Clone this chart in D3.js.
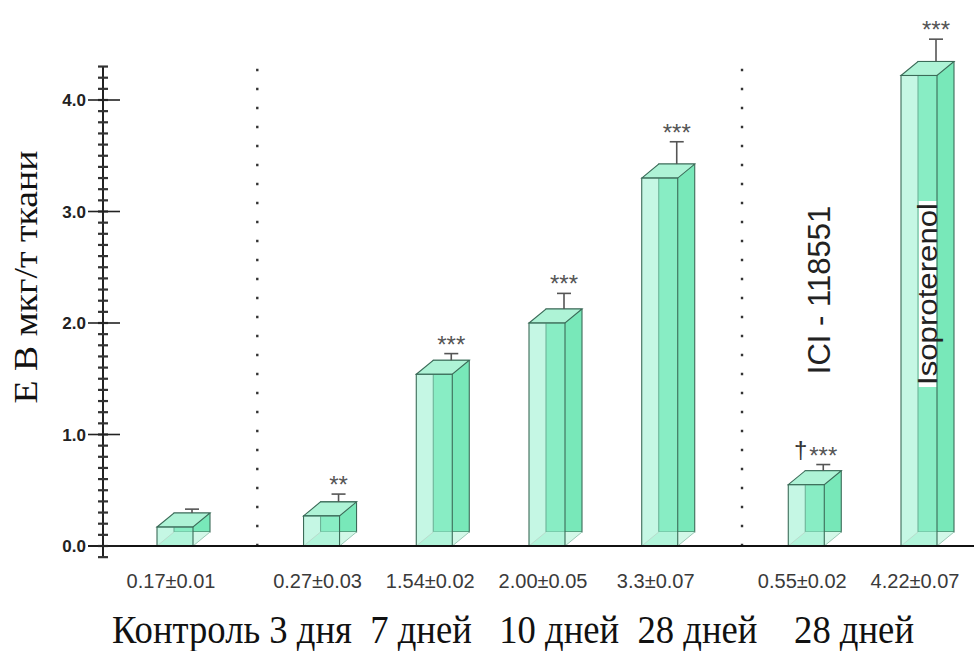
<!DOCTYPE html>
<html lang="ru">
<head>
  <meta charset="UTF-8">
  <title>E B</title>
  <style>
    body { margin: 0; background: #fff; }
    svg { display: block; }
  </style>
</head>
<body>
  <svg width="974" height="651"></svg>
  <script src="https://d3js.org/d3.v7.min.js"></script>
  <script>
    // data
    const groups = [0, 1, 1, 1, 1, 2, 2];
    const means = [0.17, 0.27, 1.54, 2.00, 3.3, 0.55, 4.22];
    const errDrawn = [0.035, 0.07, 0.06, 0.14, 0.2, 0.055, 0.2];
    const valueLabels = ["0.17±0.01", "0.27±0.03", "1.54±0.02", "2.00±0.05", "3.3±0.07", "0.55±0.02", "4.22±0.07"];
    const marks = ["", "**", "***", "***", "***", "†***", "***"];
    const yTicks = [0, 1, 2, 3, 4];
    const caption = "Контроль 3 дня  7 дней   10 дней  28 дней    28 дней";
    const yTitle = "Е В мкг/т ткани";
    const groupNotes = ["ICI - 118551", "Isoproterenol"];

    const SANS = "'Liberation Sans', Arial, sans-serif";
    const SERIF = "'Liberation Serif', 'Times New Roman', serif";

    const svg = d3.select("svg");
    const groupGap = 0.3;
    const slot = (i) => i + groups[i] * groupGap;
    const lastSlot = slot(means.length - 1);

    const x = d3.scaleLinear().domain([0, lastSlot]).range([175, 919]);
    const y = d3.scaleLinear().domain([0, 4]).range([546, 100]);

    const barW = 36, dx = 17, dy = 14;
    const axisX = 103;
    const edge = "#3b6b58";

    // dotted group separators
    const seps = [];
    for (let i = 1; i < means.length; i++) {
      if (groups[i] !== groups[i - 1]) seps.push((slot(i) + slot(i - 1)) / 2 + 0.08);
    }
    svg.selectAll("line.sep").data(seps).enter().append("line")
      .attr("class", "sep")
      .attr("x1", d => x(d)).attr("x2", d => x(d))
      .attr("y1", y(4.28)).attr("y2", y(0))
      .attr("stroke", "#333").attr("stroke-width", 2.4)
      .attr("stroke-dasharray", "2.4,16.6");

    // bars as 3D boxes
    const bars = svg.selectAll("g.bar").data(means).enter().append("g").attr("class", "bar");
    bars.each(function (v, i) {
      const g = d3.select(this);
      const xl = x(slot(i)) - barW / 2, xr = xl + barW;
      const yt = y(v), yb = y(0);
      // back face
      g.append("rect").attr("x", xl + dx).attr("y", yt - dy).attr("width", barW).attr("height", yb - yt)
        .attr("fill", "#78e8b9").attr("stroke", edge).attr("stroke-width", 1.1);
      // bottom face
      g.append("polygon")
        .attr("points", [[xl, yb], [xl + dx, yb - dy], [xr + dx, yb - dy], [xr, yb]].join(" "))
        .attr("fill", "#d2f8e8").attr("stroke", "none");
      // top face
      g.append("polygon")
        .attr("points", [[xl, yt], [xl + dx, yt - dy], [xr + dx, yt - dy], [xr, yt]].join(" "))
        .attr("fill", "#aef3d6").attr("stroke", edge).attr("stroke-width", 1.1);
      // front face, translucent
      g.append("rect").attr("x", xl).attr("y", yt).attr("width", barW).attr("height", yb - yt)
        .attr("fill", "rgba(150,240,205,0.55)").attr("stroke", edge).attr("stroke-width", 1.1);
      // bottom connectors
      g.append("line").attr("x1", xr).attr("y1", yb).attr("x2", xr + dx).attr("y2", yb - dy)
        .attr("stroke", "#9cc9b6").attr("stroke-width", 1);
      g.append("line").attr("x1", xl).attr("y1", yb).attr("x2", xl + dx).attr("y2", yb - dy)
        .attr("stroke", "#b9dccd").attr("stroke-width", 1);

      // error bar on back face
      const ex = xl + dx + barW / 2;
      const y0 = yt - dy, y1 = y(v + errDrawn[i]) - dy;
      g.append("line").attr("x1", ex).attr("x2", ex).attr("y1", y0).attr("y2", y1)
        .attr("stroke", "#555").attr("stroke-width", 1.6);
      g.append("line").attr("x1", ex - 7).attr("x2", ex + 7).attr("y1", y1).attr("y2", y1)
        .attr("stroke", "#555").attr("stroke-width", 1.6);

      // significance marks
      const m = marks[i];
      if (m) {
        const stars = m.replace("†", "");
        g.append("text")
          .attr("font-family", SANS)
          .attr("x", ex).attr("y", y1 - 1)
          .attr("text-anchor", "middle").attr("font-size", 24).attr("fill", "#555")
          .text(stars);
        if (m.includes("†")) {
          g.append("text")
            .attr("font-family", SANS)
            .attr("x", ex - 16).attr("y", y1 - 7)
            .attr("text-anchor", "end").attr("font-size", 24).attr("fill", "#333")
            .text("†");
        }
      }
    });

    // value labels under the bars
    svg.selectAll("text.val").data(valueLabels).enter().append("text")
      .attr("class", "val")
      .attr("font-family", SANS)
      .attr("x", (d, i) => x(slot(i)) - 4)
      .attr("y", 588)
      .attr("text-anchor", "middle")
      .attr("font-size", 20)
      .attr("fill", "#3a3a3a")
      .text(d => d);

    // group notes (rotated)
    svg.append("text")
      .attr("font-family", SANS)
      .attr("transform", `translate(${x(slot(5)) + 24},290) rotate(-90)`)
      .attr("text-anchor", "middle").attr("font-size", 31).attr("fill", "#222")
      .text(groupNotes[0]);

    const isoX = x(slot(6));
    const isoBoxL = isoX - barW / 2 + dx, isoBoxR = isoX + barW / 2;
    svg.append("rect")
      .attr("x", isoBoxL + 0.8).attr("y", 201)
      .attr("width", isoBoxR - isoBoxL - 1.6).attr("height", 186)
      .attr("fill", "#fff");
    svg.append("text")
      .attr("font-family", SANS)
      .attr("transform", `translate(${isoBoxR - 0.5},294) rotate(-90)`)
      .attr("text-anchor", "middle").attr("font-size", 27).attr("fill", "#222")
      .attr("textLength", 182).attr("lengthAdjust", "spacingAndGlyphs")
      .text(groupNotes[1]);

    // x axis baseline
    svg.append("line").attr("x1", 88).attr("x2", 974).attr("y1", y(0)).attr("y2", y(0))
      .attr("stroke", "#111").attr("stroke-width", 2);

    // y axis with minor ticks
    const yAxis = svg.append("g");
    yAxis.append("line").attr("x1", axisX).attr("x2", axisX).attr("y1", y(4.3)).attr("y2", y(-0.1))
      .attr("stroke", "#222").attr("stroke-width", 2);
    const minor = d3.range(-1, 44).map(k => k / 10);
    yAxis.selectAll("line.minor").data(minor).enter().append("line")
      .attr("x1", axisX - 5).attr("x2", axisX + 5)
      .attr("y1", d => y(d)).attr("y2", d => y(d))
      .attr("stroke", "#333").attr("stroke-width", 2.2);
    yAxis.selectAll("line.major").data(yTicks).enter().append("line")
      .attr("x1", axisX - 15).attr("x2", axisX + 17)
      .attr("y1", d => y(d)).attr("y2", d => y(d))
      .attr("stroke", "#222").attr("stroke-width", 1.6);
    yAxis.selectAll("text").data(yTicks).enter().append("text")
      .attr("font-family", SANS)
      .attr("x", axisX - 17).attr("y", d => y(d) + 6)
      .attr("text-anchor", "end").attr("font-size", 17).attr("font-weight", "bold")
      .attr("fill", "#222")
      .text(d => d3.format(".1f")(d));

    // y title
    svg.append("text")
      .attr("font-family", SERIF)
      .attr("transform", "translate(37,277) rotate(-90)")
      .attr("text-anchor", "middle").attr("font-size", 34).attr("fill", "#111")
      .attr("textLength", 253).attr("lengthAdjust", "spacingAndGlyphs")
      .text(yTitle);

    // caption line under the axis
    svg.append("text")
      .attr("font-family", SERIF)
      .attr("x", 112).attr("y", 643)
      .attr("font-size", 39).attr("fill", "#111")
      .style("white-space", "pre")
      .attr("textLength", 802).attr("lengthAdjust", "spacingAndGlyphs")
      .text(caption);
  </script>
</body>
</html>
